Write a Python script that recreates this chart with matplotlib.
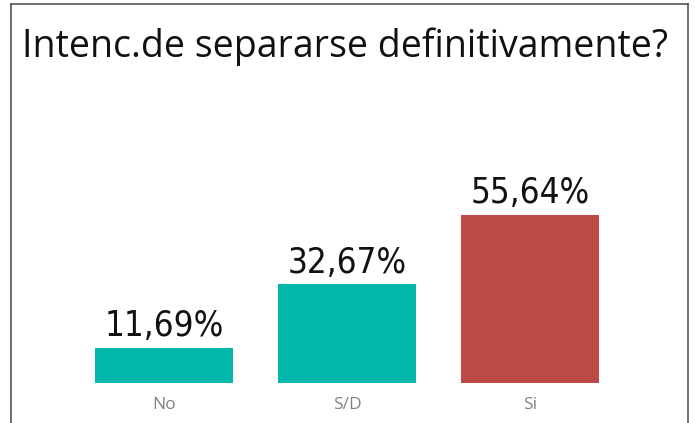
#!/usr/bin/env python3
"""Bar chart: Intenc.de separarse definitivamente?"""
import matplotlib
matplotlib.use("Agg")
import matplotlib.pyplot as plt
from matplotlib.lines import Line2D

categories = ["No", "S/D", "Si"]
values = [11.69, 32.67, 55.64]
labels = ["11,69%", "32,67%", "55,64%"]
colors = ["#01B8AA", "#01B8AA", "#BE4A47"]

W, H = 695, 423
fig = plt.figure(figsize=(W / 100, H / 100), dpi=100)

# axes placed in pixel coords: x 72.5..622, y 81..383 (from top)
left, right, top, bottom = 72.5, 622, 81, 383
ax = fig.add_axes([left / W, 1 - bottom / H, (right - left) / W, (bottom - top) / H])

x = range(len(categories))
ax.bar(x, values, width=0.754, color=colors)
for xi, v, lab in zip(x, values, labels):
    ax.text(xi, v + 3.8, lab, ha="center", va="baseline", fontsize=25,
            family="DejaVu Sans", stretch="condensed", color="#111111")

ax.set_xlim(-0.5, 2.5)
ax.set_ylim(0, 100)
ax.set_xticks(list(x))
ax.set_xticklabels(categories, color="#808080", fontsize=12.5, family="Open Sans")
ax.tick_params(axis="x", length=0, pad=10)
ax.set_yticks([])
for s in ax.spines.values():
    s.set_visible(False)

fig.text(22 / W, 1 - 57 / H, "Intenc.de separarse definitivamente?",
         fontsize=27, family="Open Sans", color="#111111", ha="left", va="baseline")

# card border (left, top, right)
bx0, bx1, by0 = 10.5 / W, 687.5 / W, 1 - 4.5 / H
for xs, ys in [([bx0, bx0], [0, by0]), ([bx0, bx1], [by0, by0]), ([bx1, bx1], [by0, 0])]:
    fig.add_artist(Line2D(xs, ys, color="#555555", lw=1.2, transform=fig.transFigure))

plt.savefig("out.png", dpi=100)
